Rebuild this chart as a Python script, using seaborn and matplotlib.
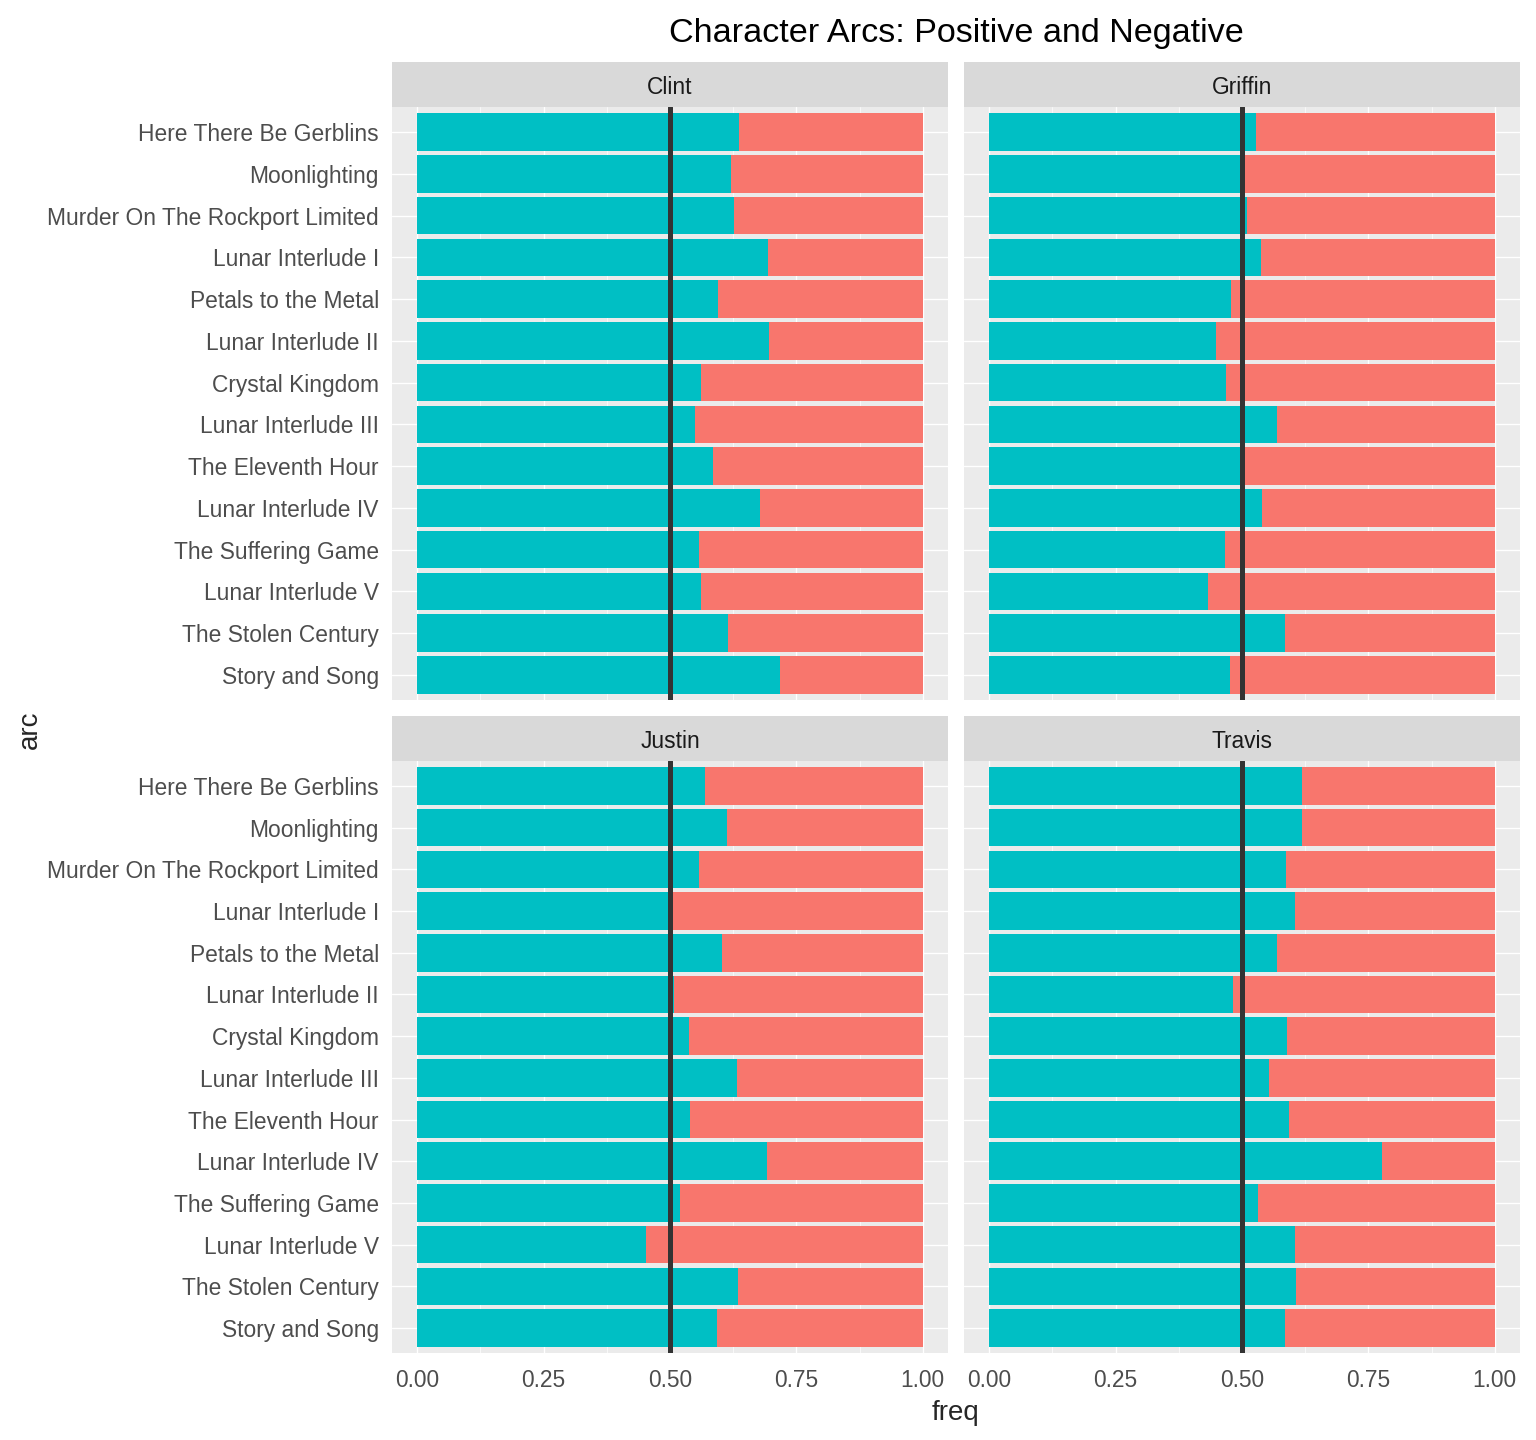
import numpy as np
import pandas as pd
import matplotlib.pyplot as plt
import seaborn as sns

# arcs in display order, top to bottom
arcs = [
    "Here There Be Gerblins", "Moonlighting", "Murder On The Rockport Limited",
    "Lunar Interlude I", "Petals to the Metal", "Lunar Interlude II",
    "Crystal Kingdom", "Lunar Interlude III", "The Eleventh Hour",
    "Lunar Interlude IV", "The Suffering Game", "Lunar Interlude V",
    "The Stolen Century", "Story and Song",
]
characters = ["Clint", "Griffin", "Justin", "Travis"]

# share of positive sentiment per arc
clint_pos = [0.637, 0.621, 0.627, 0.694, 0.594, 0.696, 0.562,
             0.550, 0.586, 0.678, 0.557, 0.562, 0.615, 0.718]
griffin_pos = [0.527, 0.500, 0.510, 0.537, 0.479, 0.448, 0.469,
               0.570, 0.496, 0.539, 0.467, 0.432, 0.586, 0.477]
justin_pos = [0.570, 0.613, 0.558, 0.500, 0.602, 0.507, 0.537,
              0.633, 0.540, 0.692, 0.519, 0.452, 0.635, 0.592]
travis_pos = [0.619, 0.619, 0.588, 0.605, 0.570, 0.483, 0.590,
              0.554, 0.592, 0.777, 0.531, 0.605, 0.607, 0.586]

pos_color = "#00BFC4"
neg_color = "#F8766D"

rows = []
for name, vals in zip(characters, [clint_pos, griffin_pos, justin_pos, travis_pos]):
    for arc, p in zip(arcs, vals):
        rows.append({"character": name, "arc": arc, "positive": p, "negative": 1 - p})
df = pd.DataFrame(rows)
# stacked: negative sits on top of positive
df["stack_top"] = df["positive"] + df["negative"]

sns.set_theme(style="darkgrid")
plt.rcParams["font.family"] = ["Liberation Sans", "DejaVu Sans"]

W, H = 1536, 1440
fig = plt.figure(figsize=(W / 100, H / 100), dpi=100)


def px_axes(x0, y0, x1, y1, **kw):
    return fig.add_axes([x0 / W, 1 - y1 / H, (x1 - x0) / W, (y1 - y0) / H], **kw)


panel_x = [(392, 948), (964, 1520)]
panel_y = [(107, 700), (761, 1353)]
strip_h = 45

for i, name in enumerate(characters):
    row, col = divmod(i, 2)
    x0, x1 = panel_x[col]
    y0, y1 = panel_y[row]
    ax = px_axes(x0, y0, x1, y1)
    sub = df[df["character"] == name]

    ax.set_facecolor("#EBEBEB")
    sns.barplot(data=sub, x="stack_top", y="arc", order=arcs, color=neg_color,
                width=0.9, saturation=1, errorbar=None, linewidth=0, ax=ax)
    sns.barplot(data=sub, x="positive", y="arc", order=arcs, color=pos_color,
                width=0.9, saturation=1, errorbar=None, linewidth=0, ax=ax)
    ax.axvline(0.5, color="#333333", lw=3.6, zorder=5)

    ax.set_xlim(-0.05, 1.05)
    ax.set_ylim(len(arcs) - 0.4, -0.6)
    ax.set_xticks([0, 0.25, 0.5, 0.75, 1.0])
    ax.set_xticks([0.125, 0.375, 0.625, 0.875], minor=True)
    ax.set_xticklabels(["0.00", "0.25", "0.50", "0.75", "1.00"])
    ax.set_axisbelow(True)
    ax.grid(which="major", color="white", lw=1.0)
    ax.grid(which="minor", axis="x", color="white", lw=0.5)
    for s in ax.spines.values():
        s.set_visible(False)
    ax.set_xlabel("")
    ax.set_ylabel("")
    ax.tick_params(axis="both", which="major", length=5.5, width=1.1, color="#333333",
                   labelcolor="#4D4D4D", labelsize=16.4)
    ax.tick_params(axis="y", pad=4)
    ax.tick_params(axis="x", pad=6)
    ax.tick_params(axis="x", which="minor", length=0)
    for lab in ax.get_yticklabels():
        lab.set_verticalalignment("center_baseline")
    if col == 1:
        ax.tick_params(axis="y", length=0, labelleft=False)
    if row == 0:
        ax.tick_params(axis="x", length=0, labelbottom=False)

    sax = px_axes(x0, y0 - strip_h, x1, y0)
    sax.set_facecolor("#D9D9D9")
    sax.set_xticks([])
    sax.set_yticks([])
    for s in sax.spines.values():
        s.set_visible(False)
    sax.text(0.5, 0.5, name, ha="center", va="center_baseline", fontsize=16.4,
             color="#1A1A1A", transform=sax.transAxes)

fig.text(956 / W, 1 - 30 / H, "Character Arcs: Positive and Negative",
         ha="center", va="center_baseline", fontsize=24.6, color="black")
fig.text(956 / W, 1 - 1410 / H, "freq", ha="center", va="center_baseline", fontsize=20)
fig.text(30 / W, 1 - 730 / H, "arc", ha="center", va="center", fontsize=20,
         rotation=90)

fig.savefig("out.png", dpi=100, facecolor="white")
